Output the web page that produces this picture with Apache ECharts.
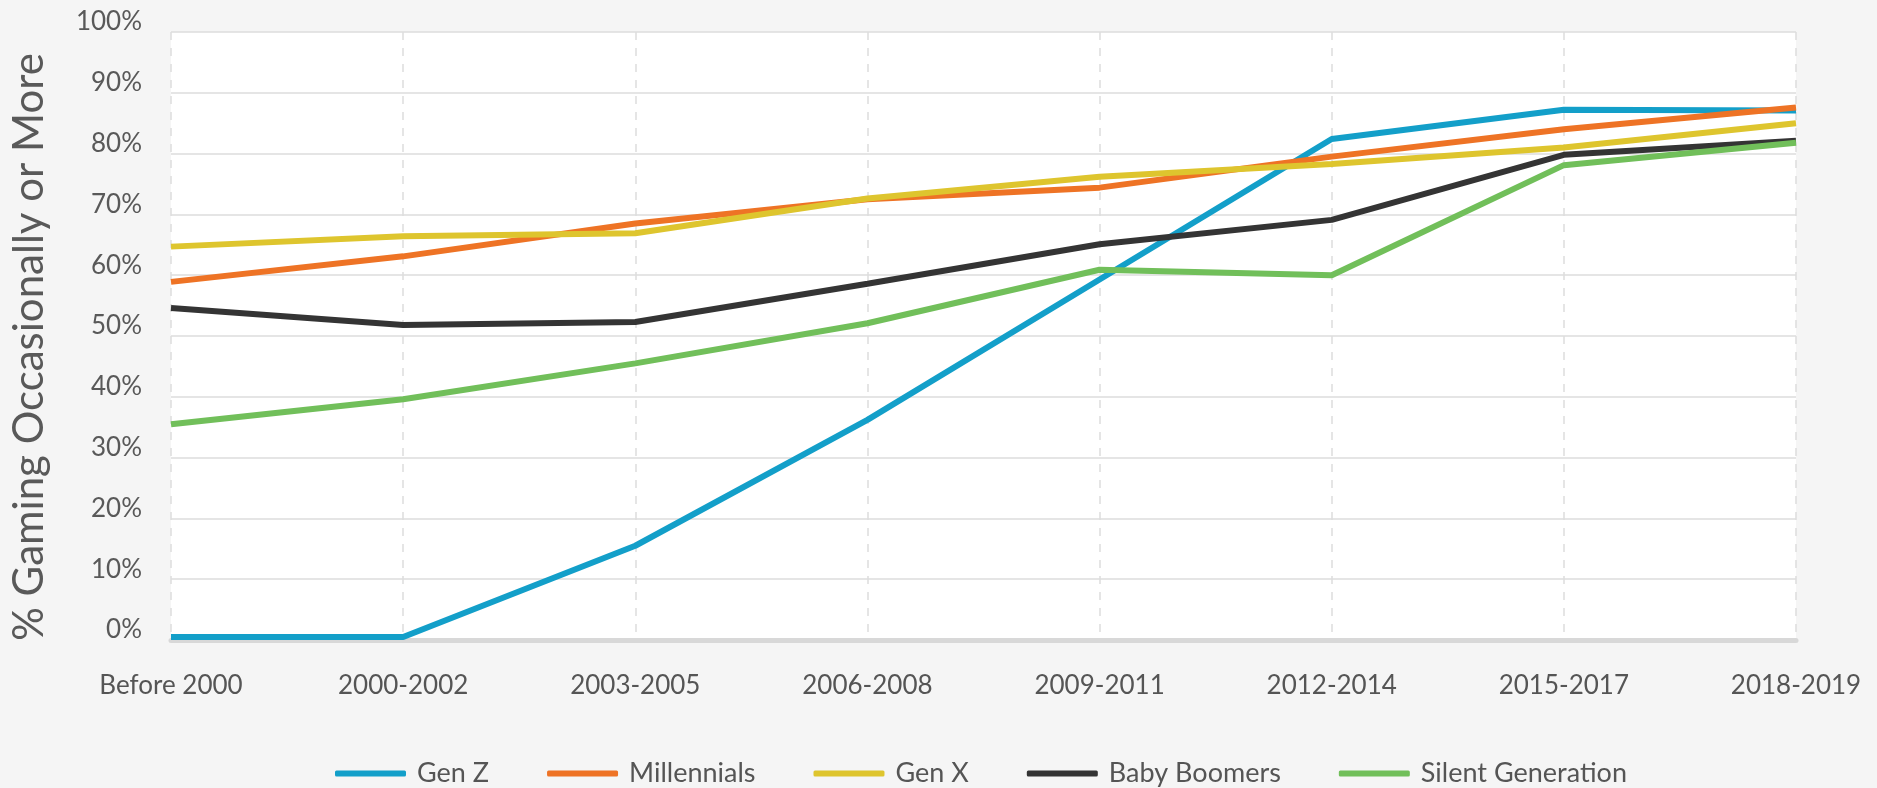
<!DOCTYPE html>
<html>
<head>
<meta charset="utf-8">
<script src="https://cdn.jsdelivr.net/npm/echarts@6/dist/echarts.min.js"></script>
<style>
html,body{margin:0;padding:0;background:#f5f5f5;}
#c{width:1877px;height:788px;}
</style>
</head>
<body>
<div id="c"></div>
<script>
const categories = ['Before 2000','2000-2002','2003-2005','2006-2008','2009-2011','2012-2014','2015-2017','2018-2019'];
const genZ = [0.5, 0.5, 15.5, 36.2, 59.3, 82.4, 87.2, 87.1];
const millennials = [58.9, 63.1, 68.5, 72.5, 74.4, 79.5, 84.0, 87.6];
const genX = [64.7, 66.4, 66.9, 72.6, 76.2, 78.3, 81.0, 85.0];
const babyBoomers = [54.6, 51.8, 52.3, 58.6, 65.1, 69.1, 79.8, 82.1];
const silentGen = [35.5, 39.6, 45.5, 52.1, 60.9, 60.0, 78.1, 81.8];
const yTicks = [0, 10, 20, 30, 40, 50, 60, 70, 80, 90, 100];

const seriesDefs = [
  {name:'Gen Z', data:genZ, color:'#139fc9'},
  {name:'Millennials', data:millennials, color:'#ee7325'},
  {name:'Gen X', data:genX, color:'#dec52e'},
  {name:'Baby Boomers', data:babyBoomers, color:'#343434'},
  {name:'Silent Generation', data:silentGen, color:'#71bf5a'}
];

const chart = echarts.init(document.getElementById('c'), null, {renderer:'canvas'});
const font = 'Lato, "Noto Sans", sans-serif';
chart.setOption({
  backgroundColor:'#f5f5f5',
  animation:false,
  textStyle:{fontFamily:font},
  grid:{left:167, right:81, top:32, bottom:148, show:true, backgroundColor:'#ffffff', borderWidth:0},
  legend:{
    left:330, top:755,
    itemWidth:71, itemHeight:6, itemGap:58,
    icon:'roundRect',
    textStyle:{fontFamily:font, fontSize:27, color:'#555555', padding:[0,0,0,6]},
    data:seriesDefs.map(s=>s.name)
  },
  xAxis:{
    type:'category', data:categories, boundaryGap:false,
    axisLine:{show:true, lineStyle:{color:'#d8d8d8', width:5}},
    axisTick:{show:false},
    axisLabel:{fontFamily:font, fontSize:26, color:'#555555', margin:33},
    splitLine:{show:true, lineStyle:{color:'#dddddd', width:1.5, type:[8,8]}}
  },
  yAxis:{
    type:'value', min:yTicks[0], max:yTicks[yTicks.length-1], interval:10,
    name:'% Gaming Occasionally or More', nameLocation:'middle', nameGap:121,
    nameTextStyle:{fontFamily:font, fontSize:42, color:'#595959', padding:[0,22,0,0]},
    axisLine:{show:false}, axisTick:{show:false},
    axisLabel:{fontFamily:font, fontSize:26, color:'#595959', margin:29,
      formatter:v=>v+'%', verticalAlign:'bottom', lineHeight:20},
    splitLine:{show:true, lineStyle:{color:'#dddddd', width:1.5}}
  },
  series:seriesDefs.map(s=>({
    name:s.name, type:'line', data:s.data, symbol:'none',
    lineStyle:{width:6, color:s.color}, itemStyle:{color:s.color},
    emphasis:{disabled:true}
  }))
});
</script>
</body>
</html>
